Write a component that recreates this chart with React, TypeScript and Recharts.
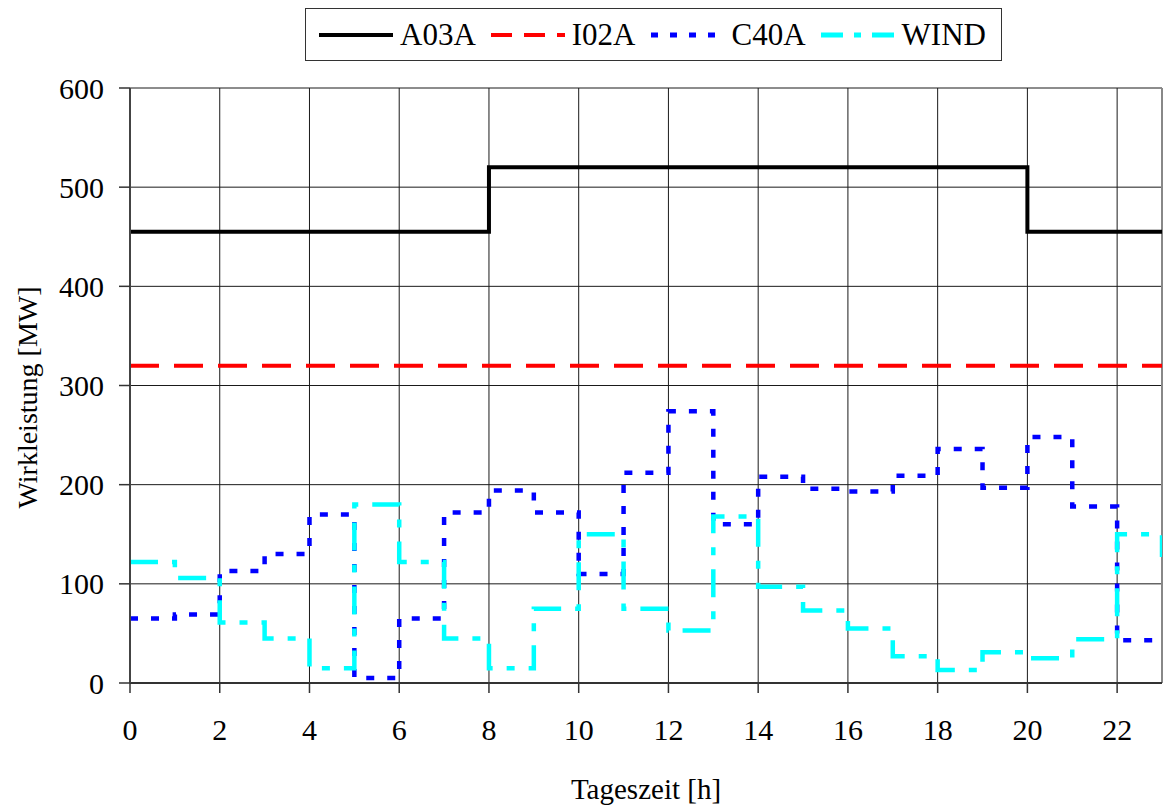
import React from 'react';
import { LineChart, Line, XAxis, YAxis, CartesianGrid, ReferenceLine } from 'recharts';

const hours = [0, 1, 2, 3, 4, 5, 6, 7, 8, 9, 10, 11, 12, 13, 14, 15, 16, 17, 18, 19, 20, 21, 22, 23];
const a03a = [455, 455, 455, 455, 455, 455, 455, 455, 520, 520, 520, 520, 520, 520, 520, 520, 520, 520, 520, 520, 455, 455, 455, 455];
const i02a = [320, 320, 320, 320, 320, 320, 320, 320, 320, 320, 320, 320, 320, 320, 320, 320, 320, 320, 320, 320, 320, 320, 320, 320];
const c40a = [65, 69, 113, 130, 170, 5, 65, 172, 194, 172, 110, 212, 274, 160, 208, 196, 193, 209, 236, 197, 248, 178, 43, 43];
const wind = [122, 106, 61, 45, 15, 180, 122, 45, 15, 75, 150, 75, 53, 168, 97, 73, 55, 27, 13, 31, 25, 44, 150, 127];
const xTicks = [0, 2, 4, 6, 8, 10, 12, 14, 16, 18, 20, 22];
const yTicks = [0, 100, 200, 300, 400, 500, 600];
const seriesNames = ['A03A', 'I02A', 'C40A', 'WIND'];

const data = hours.map((h, i) => ({
  h,
  A03A: a03a[i],
  I02A: i02a[i],
  C40A: c40a[i],
  WIND: wind[i],
}));

const FONT = "'Liberation Serif', 'Times New Roman', serif";
const textStyle = { fontFamily: FONT };

const legendStyles = [
  { color: '#000000', dash: undefined as string | undefined, width: 4 },
  { color: '#FF0000', dash: '21 12', width: 4 },
  { color: '#0000FF', dash: '7 12', width: 5 },
  { color: '#00FFFF', dash: '22 11 7 11', width: 5 },
];

function LegendBox() {
  return (
    <div
      style={{
        position: 'absolute',
        left: 305,
        top: 8,
        width: 697,
        height: 53,
        boxSizing: 'border-box',
        border: '1.5px solid #333',
        background: '#fff',
        display: 'flex',
        alignItems: 'center',
        paddingLeft: 12,
        fontFamily: FONT,
        fontSize: 31,
        color: '#000',
      }}
    >
      {seriesNames.map((name, i) => (
        <div key={name} style={{ display: 'flex', alignItems: 'center', marginRight: 14 }}>
          <svg width={76} height={20} style={{ marginRight: 6 }}>
            <line
              x1={1}
              y1={10}
              x2={75}
              y2={10}
              stroke={legendStyles[i].color}
              strokeWidth={legendStyles[i].width}
              strokeDasharray={legendStyles[i].dash}
            />
          </svg>
          <span style={{ lineHeight: '31px' }}>{name}</span>
        </div>
      ))}
    </div>
  );
}

export default function App() {
  return (
    <div
      style={{
        position: 'absolute',
        left: 0,
        top: 0,
        width: 1163,
        height: 809,
        background: '#fff',
        fontFamily: FONT,
      }}
    >
      <LineChart
        width={1163}
        height={809}
        data={data}
        margin={{ top: 88, right: 1, bottom: 0, left: 0 }}
        style={textStyle}
      >
        <CartesianGrid
          stroke="#1a1a1a"
          strokeWidth={1}
          verticalValues={xTicks}
          horizontalValues={yTicks}
        />
        <XAxis
          dataKey="h"
          type="number"
          domain={[0, 23]}
          ticks={xTicks}
          allowDataOverflow
          height={126}
          tickSize={10}
          tickMargin={26}
          axisLine={{ stroke: '#333', strokeWidth: 2 }}
          tickLine={{ stroke: '#333', strokeWidth: 1.5 }}
          tick={{ fill: '#000', fontSize: 30, style: textStyle }}
          label={{
            value: 'Tageszeit [h]',
            position: 'insideBottom',
            offset: 10,
            fill: '#000',
            fontSize: 29,
            style: textStyle,
          }}
        />
        <YAxis
          type="number"
          domain={[0, 600]}
          ticks={yTicks}
          width={130}
          tickSize={11}
          tickMargin={15}
          axisLine={{ stroke: '#444', strokeWidth: 2 }}
          tickLine={{ stroke: '#333', strokeWidth: 1.5 }}
          tick={{ fill: '#000', fontSize: 30, style: textStyle }}
          label={{
            content: (props: any) => {
              const vb = props.viewBox || { x: 0, y: 88, width: 130, height: 595 };
              const cx = 27;
              const cy = vb.y + vb.height / 2 + 12;
              return (
                <text
                  x={cx}
                  y={cy}
                  transform={`rotate(-90, ${cx}, ${cy})`}
                  textAnchor="middle"
                  dominantBaseline="central"
                  fill="#000"
                  fontSize={28}
                  style={textStyle}
                >
                  Wirkleistung [MW]
                </text>
              );
            },
          }}
        />
        <ReferenceLine x={23} stroke="#888" strokeWidth={2} ifOverflow="visible" />
        <Line
          type="stepAfter"
          dataKey="A03A"
          stroke="#000000"
          strokeWidth={4}
          dot={false}
          activeDot={false}
          isAnimationActive={false}
        />
        <Line
          type="stepAfter"
          dataKey="I02A"
          stroke="#FF0000"
          strokeWidth={4}
          strokeDasharray="29 15"
          dot={false}
          activeDot={false}
          isAnimationActive={false}
        />
        <Line
          type="stepAfter"
          dataKey="C40A"
          stroke="#0000FF"
          strokeWidth={4.5}
          strokeDasharray="8 13"
          dot={false}
          activeDot={false}
          isAnimationActive={false}
        />
        <Line
          type="stepAfter"
          dataKey="WIND"
          stroke="#00FFFF"
          strokeWidth={4.5}
          strokeDasharray="28 14 8 14"
          dot={false}
          activeDot={false}
          isAnimationActive={false}
        />
      </LineChart>
      <LegendBox />
    </div>
  );
}
